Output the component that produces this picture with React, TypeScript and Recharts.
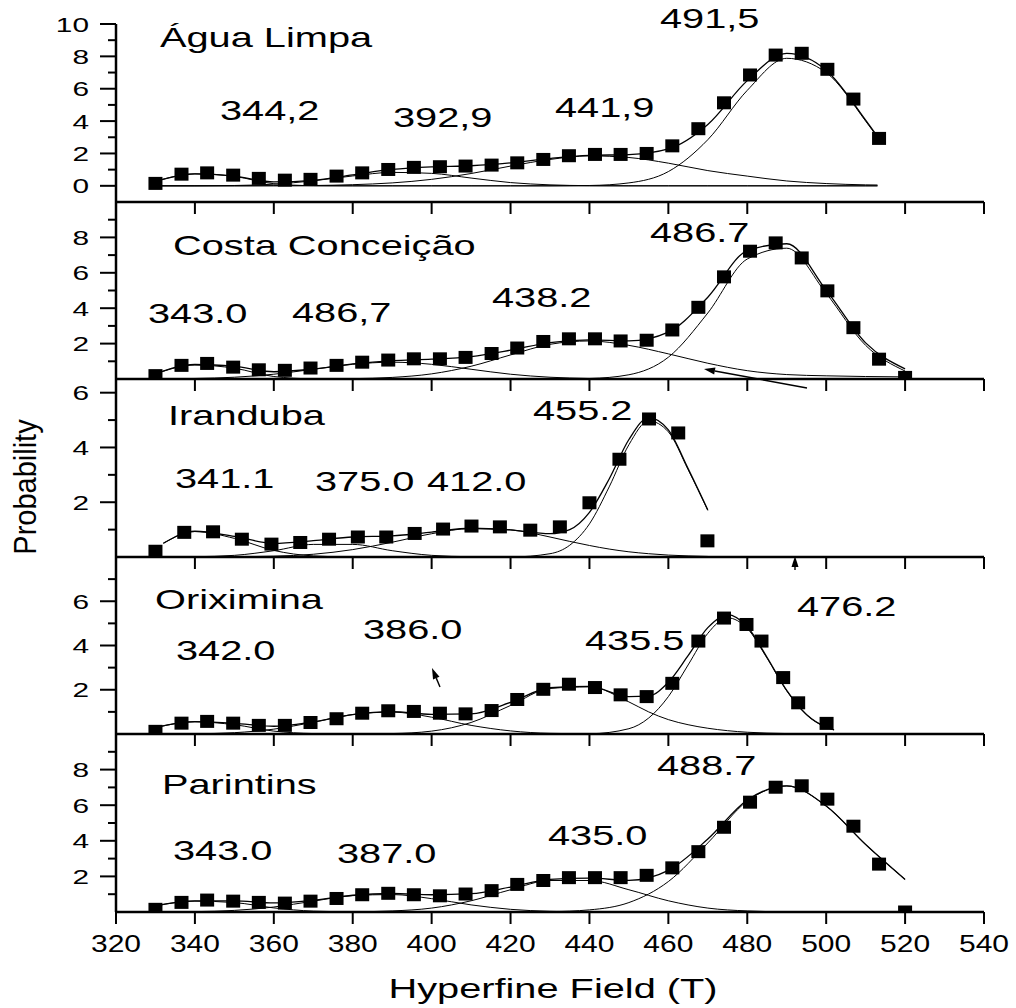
import React from "react";
import { ComposedChart, Line, Scatter, XAxis, YAxis } from "recharts";

const FONT = '"Liberation Sans", Arial, Helvetica, sans-serif';

// field positions of the measured points (T)
const fieldStep = [330.0, 336.6, 343.1, 349.7, 356.2, 362.8, 369.3, 375.9, 382.4, 389.0, 395.5, 402.1, 408.6, 415.2, 421.7, 428.3, 434.8, 441.4, 447.9, 454.5, 461.0, 467.6, 474.1, 480.7, 487.2, 493.8, 500.3, 506.9, 513.4, 520.0];
const fieldIranduba = [330.0, 337.3, 344.6, 351.9, 359.4, 366.7, 374.0, 381.3, 388.5, 395.7, 402.9, 410.1, 417.3, 425.0, 432.5, 440.0, 447.6, 455.1, 462.5, 469.9];
const fieldOriximina = [330.0, 336.6, 343.1, 349.7, 356.2, 362.8, 369.3, 375.9, 382.4, 389.0, 395.5, 402.1, 408.6, 415.2, 421.7, 428.3, 434.8, 441.4, 447.9, 454.5, 461.0, 467.6, 474.1, 479.8, 483.6, 489.1, 492.9, 500.1];

// field positions where the fitted curves were read
const curveFieldAgua = [330, 340, 350, 360, 370, 380, 390, 400, 410, 420, 430, 440, 450, 460, 470, 480, 490, 500, 510, 513];
const curveFieldWide = [330, 340, 350, 360, 370, 380, 390, 400, 410, 420, 430, 440, 450, 460, 470, 480, 490, 500, 510, 520];
const curveFieldIranduba = [332, 340, 350, 360, 370, 380, 390, 400, 410, 420, 430, 435, 440, 445, 450, 455, 460, 465, 470];
const curveFieldOriximina = [330, 340, 350, 360, 370, 380, 390, 400, 410, 420, 430, 440, 450, 455, 460, 465, 470, 475, 480, 485, 490, 495, 500, 502];

// Água Limpa
const aguaPoints = [0.15, 0.72, 0.8, 0.66, 0.46, 0.35, 0.4, 0.6, 0.8, 1.01, 1.14, 1.18, 1.22, 1.28, 1.42, 1.63, 1.86, 1.94, 1.94, 2.0, 2.47, 3.53, 5.13, 6.85, 8.08, 8.19, 7.2, 5.36, 2.93];
const aguaFit = [0.27, 0.74, 0.6, 0.24, 0.34, 0.68, 1.01, 1.17, 1.24, 1.42, 1.69, 1.88, 1.93, 2.28, 3.79, 6.5, 8.18, 7.14, 4.06, 3.05];
const aguaC1 = [0.27, 0.74, 0.58, 0.13, 0.01, 0, 0, 0, 0, 0, 0, 0, 0, 0, 0, 0, 0, 0, 0, 0];
const aguaC2 = [0, 0, 0.02, 0.1, 0.31, 0.61, 0.83, 0.77, 0.48, 0.2, 0.06, 0.01, 0, 0, 0, 0, 0, 0, 0, 0];
const aguaC3 = [0, 0, 0, 0.01, 0.02, 0.07, 0.18, 0.4, 0.76, 1.22, 1.63, 1.85, 1.75, 1.4, 0.94, 0.6, 0.3, 0.14, 0.06, 0.05];
const aguaC4 = [0, 0, 0, 0, 0, 0, 0, 0, 0, 0, 0, 0.02, 0.18, 0.88, 2.85, 5.9, 7.88, 7.0, 4.0, 3.0];

// Costa Conceição
const costaPoints = [0.19, 0.77, 0.88, 0.67, 0.52, 0.49, 0.62, 0.77, 0.95, 1.07, 1.14, 1.14, 1.22, 1.44, 1.75, 2.12, 2.27, 2.27, 2.15, 2.19, 2.77, 4.05, 5.77, 7.22, 7.69, 6.84, 4.98, 2.9, 1.12, 0.09];
const costaFit = [0.3, 0.82, 0.71, 0.41, 0.56, 0.85, 1.04, 1.12, 1.27, 1.63, 2.06, 2.21, 2.15, 2.65, 4.62, 7.25, 7.64, 5.02, 2.04, 0.57];
const costaC1 = [0.29, 0.79, 0.61, 0.14, 0.01, 0, 0, 0, 0, 0, 0, 0, 0, 0, 0, 0, 0, 0, 0, 0];
const costaC2 = [0.01, 0.03, 0.1, 0.27, 0.55, 0.83, 0.95, 0.83, 0.55, 0.27, 0.1, 0.03, 0.01, 0, 0, 0, 0, 0, 0, 0];
const costaC3 = [0, 0, 0, 0, 0, 0.02, 0.09, 0.29, 0.72, 1.36, 1.96, 2.15, 1.9, 1.42, 0.89, 0.47, 0.25, 0.18, 0.14, 0.12];
const costaC4 = [0, 0, 0, 0, 0, 0, 0, 0, 0, 0, 0, 0.03, 0.24, 1.23, 3.73, 6.78, 7.39, 4.84, 1.9, 0.45];

// Iranduba
const irandubaPoints = [0.21, 0.9, 0.92, 0.65, 0.47, 0.53, 0.65, 0.73, 0.73, 0.86, 1.02, 1.13, 1.1, 0.98, 1.1, 1.98, 3.57, 5.04, 4.53, 0.59];
const irandubaFit = [0.5, 0.94, 0.75, 0.5, 0.6, 0.73, 0.77, 0.91, 1.05, 0.99, 0.85, 1.0, 1.63, 2.85, 4.29, 5.09, 4.64, 3.23, 1.72];
const irandubaC1 = [0.5, 0.93, 0.68, 0.24, 0.04, 0, 0, 0, 0, 0, 0, 0, 0, 0, 0, 0, 0, 0, 0];
const irandubaC2 = [0, 0.01, 0.06, 0.23, 0.46, 0.46, 0.23, 0.06, 0.01, 0, 0, 0, 0, 0, 0, 0, 0, 0, 0];
const irandubaC3 = [0, 0, 0.01, 0.03, 0.1, 0.27, 0.54, 0.85, 1.04, 0.99, 0.73, 0.57, 0.42, 0.29, 0.19, 0.12, 0.07, 0.04, 0.02];
const irandubaC4 = [0, 0, 0, 0, 0, 0, 0, 0, 0, 0, 0.12, 0.43, 1.21, 2.56, 4.1, 4.97, 4.57, 3.19, 1.7];

// Oriximina
const oriximinaPoints = [0.12, 0.49, 0.57, 0.49, 0.39, 0.39, 0.52, 0.69, 0.94, 1.05, 1.02, 0.94, 0.91, 1.06, 1.56, 2.02, 2.25, 2.1, 1.77, 1.69, 2.29, 4.2, 5.24, 4.95, 4.2, 2.55, 1.41, 0.48];
const oriximinaFit = [0.29, 0.56, 0.48, 0.35, 0.55, 0.88, 1.01, 0.89, 0.91, 1.43, 2.09, 2.15, 1.69, 1.72, 2.34, 3.54, 4.81, 5.4, 4.85, 3.47, 1.97, 0.88, 0.31, 0.19];
const oriximinaC1 = [0.29, 0.55, 0.42, 0.13, 0.02, 0, 0, 0, 0, 0, 0, 0, 0, 0, 0, 0, 0, 0, 0, 0, 0, 0, 0, 0];
const oriximinaC2 = [0, 0.01, 0.06, 0.22, 0.53, 0.88, 0.99, 0.76, 0.39, 0.14, 0.03, 0.01, 0, 0, 0, 0, 0, 0, 0, 0, 0, 0, 0, 0];
const oriximinaC3 = [0, 0, 0, 0, 0, 0, 0.02, 0.13, 0.52, 1.29, 2.06, 2.13, 1.45, 1.0, 0.65, 0.42, 0.26, 0.15, 0.08, 0.04, 0.02, 0.01, 0, 0];
const oriximinaC4 = [0, 0, 0, 0, 0, 0, 0, 0, 0, 0, 0, 0.01, 0.24, 0.72, 1.69, 3.12, 4.55, 5.25, 4.77, 3.43, 1.95, 0.87, 0.31, 0.19];

// Parintins
const parintinsPoints = [0.15, 0.54, 0.67, 0.61, 0.54, 0.5, 0.61, 0.76, 0.97, 1.05, 0.97, 0.91, 1.01, 1.2, 1.55, 1.77, 1.93, 1.93, 1.93, 2.06, 2.48, 3.39, 4.76, 6.17, 7.01, 7.09, 6.34, 4.82, 2.69, 0.0];
const parintinsFit = [0.35, 0.63, 0.62, 0.51, 0.66, 0.94, 1.04, 0.97, 1.03, 1.4, 1.83, 1.9, 1.78, 2.34, 4.1, 6.29, 7.09, 5.95, 3.79, 1.83];
const parintinsC1 = [0.35, 0.61, 0.53, 0.23, 0.05, 0.01, 0, 0, 0, 0, 0, 0, 0, 0, 0, 0, 0, 0, 0, 0];
const parintinsC2 = [0, 0.02, 0.09, 0.28, 0.61, 0.92, 0.98, 0.75, 0.4, 0.15, 0.04, 0.01, 0, 0, 0, 0, 0, 0, 0, 0];
const parintinsC3 = [0, 0, 0, 0, 0, 0.01, 0.06, 0.22, 0.63, 1.25, 1.77, 1.77, 1.25, 0.63, 0.22, 0.06, 0.01, 0, 0, 0];
const parintinsC4 = [0, 0, 0, 0, 0, 0, 0, 0, 0, 0, 0.02, 0.12, 0.53, 1.71, 3.88, 6.23, 7.08, 5.95, 3.79, 1.83];

const xTicks = [320, 340, 360, 380, 400, 420, 440, 460, 480, 500, 520, 540];

const toPts = (xs: number[], ys: number[]) => ys.map((y, i) => ({ x: xs[i], y }));

const panels = [
  { top: 24, bottom: 202, domain: [-1, 10], majors: [0, 2, 4, 6, 8, 10], minors: [1, 3, 5, 7, 9],
    pointX: fieldStep, points: aguaPoints, curveX: curveFieldAgua, fit: aguaFit, comps: [aguaC1, aguaC2, aguaC3, aguaC4] },
  { top: 202, bottom: 379, domain: [0, 10], majors: [2, 4, 6, 8], minors: [1, 3, 5, 7, 9],
    pointX: fieldStep, points: costaPoints, curveX: curveFieldWide, fit: costaFit, comps: [costaC1, costaC2, costaC3, costaC4] },
  { top: 379, bottom: 557, domain: [0, 6.5], majors: [2, 4, 6], minors: [1, 3, 5],
    pointX: fieldIranduba, points: irandubaPoints, curveX: curveFieldIranduba, fit: irandubaFit, comps: [irandubaC1, irandubaC2, irandubaC3, irandubaC4] },
  { top: 557, bottom: 734, domain: [0, 8], majors: [2, 4, 6], minors: [1, 3, 5, 7],
    pointX: fieldOriximina, points: oriximinaPoints, curveX: curveFieldOriximina, fit: oriximinaFit, comps: [oriximinaC1, oriximinaC2, oriximinaC3, oriximinaC4] },
  { top: 734, bottom: 912, domain: [0, 10], majors: [2, 4, 6, 8], minors: [1, 3, 5, 7, 9],
    pointX: fieldStep, points: parintinsPoints, curveX: curveFieldWide, fit: parintinsFit, comps: [parintinsC1, parintinsC2, parintinsC3, parintinsC4] },
];

// annotations: text, left edge, baseline
const notes = [
  { t: "Água Limpa", x: 160, y: 47 },
  { t: "344,2", x: 220, y: 120 },
  { t: "392,9", x: 393, y: 127 },
  { t: "441,9", x: 555, y: 117 },
  { t: "491,5", x: 660, y: 28 },
  { t: "Costa Conceição", x: 173, y: 255 },
  { t: "343.0", x: 148, y: 323 },
  { t: "486,7", x: 292, y: 322 },
  { t: "438.2", x: 492, y: 307 },
  { t: "486.7", x: 650, y: 242 },
  { t: "Iranduba", x: 168, y: 425 },
  { t: "341.1", x: 175, y: 488 },
  { t: "375.0", x: 315, y: 491 },
  { t: "412.0", x: 427, y: 491 },
  { t: "455.2", x: 533, y: 420 },
  { t: "Oriximina", x: 155, y: 609 },
  { t: "342.0", x: 176, y: 660 },
  { t: "386.0", x: 363, y: 639 },
  { t: "435.5", x: 585, y: 650 },
  { t: "476.2", x: 797, y: 616 },
  { t: "Parintins", x: 162, y: 794 },
  { t: "343.0", x: 173, y: 860 },
  { t: "387.0", x: 337, y: 863 },
  { t: "435.0", x: 548, y: 845 },
  { t: "488.7", x: 657, y: 775 },
];

const arrows = [
  { x1: 807, y1: 388, x2: 704, y2: 369 },
  { x1: 795, y1: 570, x2: 795, y2: 556 },
  { x1: 440, y1: 687, x2: 432, y2: 668 },
];

const Square = (props: any) => {
  const { cx, cy } = props;
  if (cx == null || cy == null) return <g />;
  return <rect x={cx - 7} y={cy - 6.5} width={14} height={13} fill="#000" />;
};

const makeYTick = (majors: number[]) => (props: any) => {
  const { x, y, payload } = props;
  const major = majors.includes(payload.value);
  return (
    <g>
      <line x1={x - (major ? 16 : 8)} x2={x} y1={y} y2={y} stroke="#000" strokeWidth={2} />
      {major && (
        <text transform={`translate(${x - 27}, ${y + 7.5}) scale(1.42, 1)`} textAnchor="end"
          fontSize={21} fontFamily={FONT} fill="#000">{payload.value}</text>
      )}
    </g>
  );
};

const XLabel = (props: any) => {
  const { x, y, payload } = props;
  return (
    <text transform={`translate(${x}, ${y + 28}) scale(1.25, 1)`} textAnchor="middle"
      fontSize={24} fontFamily={FONT} fill="#000">{payload.value}</text>
  );
};

function Panel({ p, last }: { p: any; last: boolean }) {
  const axisH = last ? 50 : 14;
  const height = 10 + (p.bottom - p.top) + axisH;
  return (
    <div style={{ position: "absolute", left: 0, top: p.top - 10 }}>
      <ComposedChart width={1016} height={height} margin={{ top: 10, right: 32, bottom: 0, left: 56 }}>
        <XAxis type="number" dataKey="x" domain={[320, 540]} ticks={xTicks} interval={0}
          allowDataOverflow height={axisH} tickSize={12} tickMargin={0}
          axisLine={{ stroke: "#000", strokeWidth: 2.5 }} tickLine={{ stroke: "#000", strokeWidth: 2 }}
          tick={last ? XLabel : () => <g />} />
        <YAxis type="number" dataKey="y" domain={p.domain} ticks={[...p.majors, ...p.minors]} interval={0}
          allowDataOverflow width={60} tickSize={0} tickMargin={0} tickLine={false}
          axisLine={{ stroke: "#000", strokeWidth: 2.5 }} tick={makeYTick(p.majors)} />
        {p.comps.map((c: number[], i: number) => (
          <Line key={i} data={toPts(p.curveX, c)} dataKey="y" type="monotone" dot={false} activeDot={false}
            stroke="#000" strokeWidth={1} isAnimationActive={false} />
        ))}
        <Line data={toPts(p.curveX, p.fit)} dataKey="y" type="monotone" dot={false} activeDot={false}
          stroke="#000" strokeWidth={1.3} isAnimationActive={false} />
        <Scatter data={toPts(p.pointX, p.points)} dataKey="y" shape={Square} isAnimationActive={false} />
      </ComposedChart>
    </div>
  );
}

function Arrow({ x1, y1, x2, y2 }: { x1: number; y1: number; x2: number; y2: number }) {
  const len = Math.hypot(x2 - x1, y2 - y1);
  const ux = (x2 - x1) / len;
  const uy = (y2 - y1) / len;
  const bx = x2 - ux * 11;
  const by = y2 - uy * 11;
  return (
    <g>
      <line x1={x1} y1={y1} x2={bx} y2={by} stroke="#000" strokeWidth={1.4} />
      <polygon points={`${x2},${y2} ${bx - uy * 3.5},${by + ux * 3.5} ${bx + uy * 3.5},${by - ux * 3.5}`} fill="#000" />
    </g>
  );
}

export default function App() {
  return (
    <div style={{ position: "absolute", left: 0, top: 0, width: 1016, height: 1008, background: "#fff" }}>
      {panels.map((p, i) => (
        <Panel key={i} p={p} last={i === panels.length - 1} />
      ))}
      <svg width={1016} height={1008} style={{ position: "absolute", left: 0, top: 0, pointerEvents: "none" }}>
        {notes.map((n, i) => (
          <text key={i} transform={`translate(${n.x}, ${n.y}) scale(1.42, 1)`} fontSize={28}
            fontFamily={FONT} fill="#000">{n.t}</text>
        ))}
        {arrows.map((a, i) => (
          <Arrow key={i} {...a} />
        ))}
        <text transform="translate(36, 487) rotate(-90) scale(1, 1.1)" textAnchor="middle" fontSize={29}
          fontFamily={FONT} fill="#000">Probability</text>
        <text transform="translate(553, 998) scale(1.42, 1)" textAnchor="middle" fontSize={28}
          fontFamily={FONT} fill="#000">Hyperfine Field (T)</text>
      </svg>
    </div>
  );
}
